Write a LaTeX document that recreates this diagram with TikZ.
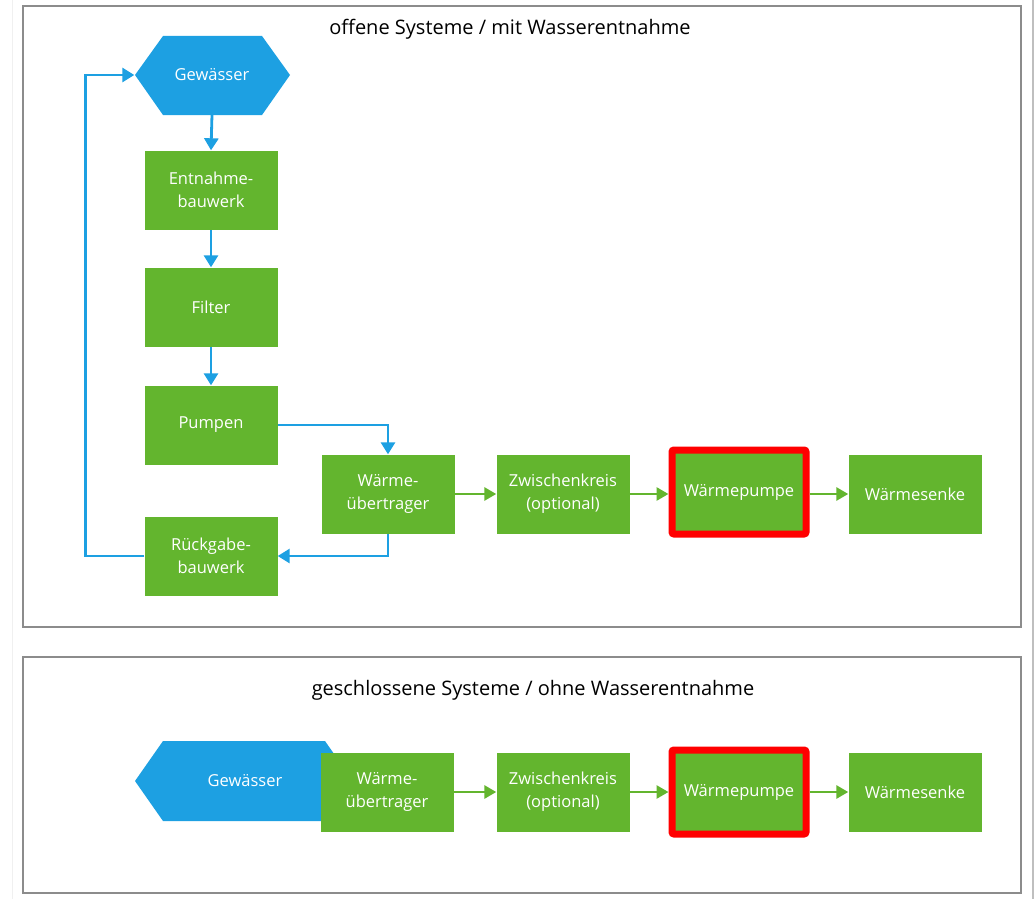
\documentclass[tikz,border=0pt]{standalone}
\usepackage{fontspec}
\setmainfont{Open Sans}
\usetikzlibrary{arrows.meta}
\definecolor{grn}{RGB}{99,181,46}
\definecolor{blu}{RGB}{29,160,226}
\definecolor{frm}{RGB}{140,140,140}
\tikzset{
  gbox/.style={fill=grn, text=white, minimum width=133pt, minimum height=79pt, inner sep=0pt, align=center, font=\fontsize{16.5}{23}\selectfont},
  wpbox/.style={gbox, draw=red, line width=7pt, rounded corners=2pt, minimum width=134pt, minimum height=84pt},
  hexnode/.style={text=white, minimum width=155pt, minimum height=79pt, inner sep=0pt, font=\fontsize{16.5}{23}\selectfont},
  barrow/.style={draw=blu, line width=2.8pt, -{Triangle[length=12pt,width=14pt]}},
  garrow/.style={draw=grn, line width=2.8pt, -{Triangle[length=12pt,width=13pt]}},
  frame/.style={draw=frm, line width=1.8pt},
  ttl/.style={font=\fontsize{20}{24}\selectfont, text=black}
}
\begin{document}
\begin{tikzpicture}[x=1pt,y=-1pt]
\useasboundingbox (0,0) rectangle (1036,899);
\fill[white] (0,0) rectangle (1036,899);
% page edge shade
\draw[draw=black!25, line width=2pt] (1033,0) -- (1033,899);
\draw[draw=black!6, line width=1pt] (12,0) -- (12,899);
% frames
\draw[frame] (23,6) rectangle (1021,627);
\draw[frame] (23,657) rectangle (1021,893);
\node[ttl] (t1) at (510,29) {offene Systeme / mit Wasserentnahme};
\node[ttl] (t2) at (533,690) {geschlossene Systeme / ohne Wasserentnahme};

% top part
\fill[blu] (135,75) -- (163,36) -- (262,36) -- (290,75) -- (262,115) -- (163,115) -- cycle;
\node[hexnode] (gew) at (212,75) {Gewässer};
\node[gbox] (ent) at (211,190) {Entnahme-\\bauwerk};
\node[gbox] (fil) at (211,307) {Filter};
\node[gbox] (pum) at (211,425) {Pumpen};
\node[gbox] (rb) at (211,556) {Rückgabe-\\bauwerk};
\node[gbox] (wu) at (388,494) {Wärme-\\übertrager};
\node[gbox] (zk) at (563,494) {Zwischenkreis\\(optional)};
\node[wpbox] (wp) at (739,492) {Wärmepumpe};
\node[gbox] (ws) at (915,494) {Wärmesenke};

\draw[barrow] (gew.south) -- (ent.north);
\draw[barrow] (ent.south) -- (fil.north);
\draw[barrow] (fil.south) -- (pum.north);
\draw[barrow] (pum.east) -| (wu.north);
\draw[barrow] (wu.south) |- (rb.east);
\draw[barrow] (rb.west) -- ++(-59,0) |- (gew.west);
\draw[garrow] (wu.east) -- (zk.west);
\draw[garrow] (zk.east) -- (zk.east -| wp.west);
\draw[garrow] (wp.east |- ws.west) -- (ws.west);

% bottom part
\fill[blu] (135,781) -- (163,741) -- (325,741) -- (353,781) -- (325,821) -- (163,821) -- cycle;
\node[hexnode] (gew2) at (245,781) {Gewässer};
\node[gbox] (wu2) at (387,792) {Wärme-\\übertrager};
\node[gbox] (zk2) at (563,792) {Zwischenkreis\\(optional)};
\node[wpbox] (wp2) at (739,792) {Wärmepumpe};
\node[gbox] (ws2) at (915,792) {Wärmesenke};
\draw[garrow] (wu2.east) -- (zk2.west);
\draw[garrow] (zk2.east) -- (wp2.west);
\draw[garrow] (wp2.east) -- (ws2.west);
\end{tikzpicture}
\end{document}
